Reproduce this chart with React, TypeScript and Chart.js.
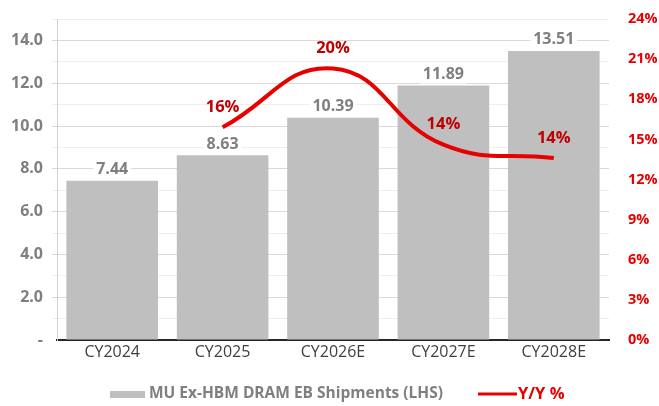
import React, { useEffect, useRef } from "react";
import { Chart, registerables } from "chart.js";

Chart.register(...registerables);

const categories = ["CY2024", "CY2025", "CY2026E", "CY2027E", "CY2028E"];
const shipments = [7.44, 8.63, 10.39, 11.89, 13.51];
const yoy = [null, 15.9, 20.3, 14.6, 13.6];
const yoyLabels = ["", "16%", "20%", "14%", "14%"];
const barLegend = "MU Ex-HBM DRAM EB Shipments (LHS)";
const lineLegend = "Y/Y %";

const FONT = "'Open Sans', 'Noto Sans', sans-serif";
const BAR_COLOR = "#bfbfbf";
const RED = "#e60000";
const DARK_RED = "#c00000";
const GRAY_TEXT = "#7f7f7f";

const labelsPlugin = {
  id: "customLabels",
  afterDatasetsDraw(chart: any) {
    const ctx = chart.ctx;
    ctx.save();
    const barMeta = chart.getDatasetMeta(0);
    ctx.font = `bold 16px ${FONT}`;
    ctx.textAlign = "center";
    ctx.textBaseline = "middle";
    barMeta.data.forEach((el: any, i: number) => {
      const txt = shipments[i].toFixed(2);
      const x = el.x;
      const y = el.y - 11;
      const w = ctx.measureText(txt).width + 6;
      ctx.fillStyle = "#ffffff";
      ctx.fillRect(x - w / 2, y - 9, w, 18);
      ctx.fillStyle = GRAY_TEXT;
      ctx.fillText(txt, x, y);
    });
    const lineMeta = chart.getDatasetMeta(1);
    ctx.font = `bold 16.5px ${FONT}`;
    lineMeta.data.forEach((el: any, i: number) => {
      if (yoy[i] == null) return;
      ctx.fillStyle = DARK_RED;
      ctx.fillText(yoyLabels[i], el.x, el.y - 20);
    });
    ctx.restore();
  },
  afterDraw(chart: any) {
    const ctx = chart.ctx;
    ctx.save();
    const y = 394;
    ctx.font = `bold 15.5px ${FONT}`;
    ctx.textBaseline = "middle";
    ctx.textAlign = "left";
    ctx.fillStyle = BAR_COLOR;
    ctx.fillRect(110, y - 3, 35, 7);
    ctx.fillStyle = GRAY_TEXT;
    ctx.fillText(barLegend, 149, y);
    ctx.strokeStyle = RED;
    ctx.lineWidth = 3;
    ctx.beginPath();
    ctx.moveTo(478, y);
    ctx.lineTo(517, y);
    ctx.stroke();
    ctx.fillStyle = RED;
    ctx.font = `bold 16.5px ${FONT}`;
    ctx.fillText(lineLegend, 518, y);
    ctx.restore();
  },
};

export default function App() {
  const ref = useRef<HTMLCanvasElement>(null);
  useEffect(() => {
    document.body.style.margin = "0";
    document.body.style.overflow = "hidden";
    if (!ref.current) return;
    const chart = new Chart(ref.current, {
      data: {
        labels: categories,
        datasets: [
          {
            type: "bar",
            label: barLegend,
            data: shipments,
            backgroundColor: BAR_COLOR,
            yAxisID: "y",
            categoryPercentage: 0.83,
            barPercentage: 1,
            order: 2,
          },
          {
            type: "line",
            label: lineLegend,
            data: yoy as any,
            borderColor: RED,
            borderWidth: 4,
            pointRadius: 0,
            tension: 0.45,
            fill: false,
            yAxisID: "y1",
            order: 1,
          },
        ],
      } as any,
      plugins: [labelsPlugin],
      options: {
        animation: false,
        responsive: false,
        maintainAspectRatio: false,
        layout: { padding: { top: 19, bottom: 36, left: 0, right: 0 } },
        plugins: {
          legend: { display: false },
          tooltip: { enabled: false },
        },
        scales: {
          x: {
            grid: { display: false, drawTicks: false },
            border: { color: "#262626", width: 2 },
            ticks: {
              color: "#404040",
              font: { family: FONT, size: 16 },
              padding: 3,
              maxRotation: 0,
            },
            afterFit(scale: any) {
              scale.height = 30;
              scale.paddingLeft = 0;
              scale.paddingRight = 0;
            },
          },
          y: {
            position: "left",
            min: 0,
            max: 15,
            ticks: {
              stepSize: 1,
              color: GRAY_TEXT,
              font: { family: FONT, size: 16, weight: "bold" },
              padding: 9,
              autoSkip: false,
              callback(v: any) {
                const n = Number(v);
                if (n === 0) return "-";
                if (n % 2 !== 0) return "";
                return n.toFixed(1);
              },
            },
            grid: {
              color(c: any) {
                const v = c.tick ? c.tick.value : 0;
                if (v === 0) return "rgba(0,0,0,0)";
                return v % 2 === 0 ? "#d9d9d9" : "#eeeeee";
              },
              lineWidth: 1,
              drawTicks: true,
              tickLength: 5,
            },
            border: { color: "#d0d0d0", width: 1 },
            afterFit(scale: any) {
              scale.width = 57;
              scale.paddingTop = 0;
              scale.paddingBottom = 0;
            },
          },
          y1: {
            position: "right",
            min: 0,
            max: 24,
            ticks: {
              stepSize: 3,
              color: RED,
              font: { family: FONT, size: 14.5, weight: "bold" },
              padding: 19,
              callback(v: any) {
                return `${v}%`;
              },
            },
            grid: { display: false, drawTicks: false },
            border: { display: false },
            afterFit(scale: any) {
              scale.width = 50;
              scale.paddingTop = 0;
              scale.paddingBottom = 0;
            },
          },
        },
      } as any,
    });
    return () => chart.destroy();
  }, []);
  return <canvas ref={ref} width={659} height={406} style={{ display: "block" }} />;
}
